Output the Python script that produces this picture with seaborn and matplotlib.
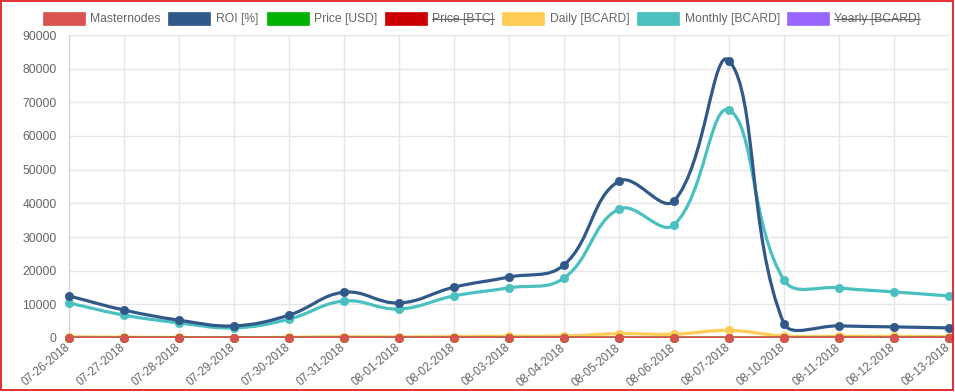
import numpy as np
import pandas as pd
import matplotlib
matplotlib.use("Agg")
import matplotlib.pyplot as plt
import seaborn as sns
from matplotlib.path import Path
from matplotlib.patches import PathPatch, Rectangle
from matplotlib.lines import Line2D

# ---------------- data ----------------
dates = ["07-26-2018", "07-27-2018", "07-28-2018", "07-29-2018", "07-30-2018",
         "07-31-2018", "08-01-2018", "08-02-2018", "08-03-2018", "08-04-2018",
         "08-05-2018", "08-06-2018", "08-07-2018", "08-10-2018", "08-11-2018",
         "08-12-2018", "08-13-2018"]
masternodes = [20, 21, 22, 22, 23, 24, 25, 26, 27, 28, 29, 30, 31, 33, 34, 35, 36]
roi = [12500, 8300, 5300, 3600, 6800, 13600, 10400, 15100, 18100, 21700,
       46600, 40700, 82400, 4200, 3600, 3300, 3000]
price_usd = [0.12, 0.10, 0.08, 0.06, 0.09, 0.15, 0.12, 0.16, 0.18, 0.20,
             0.40, 0.35, 0.70, 0.05, 0.05, 0.05, 0.04]
daily = [350, 230, 150, 100, 190, 370, 290, 420, 500, 590,
         1280, 1120, 2260, 570, 500, 460, 420]
monthly = [10400, 6800, 4500, 3000, 5600, 11000, 8600, 12500, 14900, 17800,
           38300, 33600, 67700, 17200, 14900, 13700, 12500]

legend_labels = ["Masternodes", "ROI [%]", "Price [USD]", "Price [BTC]",
                 "Daily [BCARD]", "Monthly [BCARD]", "Yearly [BCARD]"]
legend_hidden = [False, False, False, True, False, False, True]
legend_colors = ["#d9534f", "#30598a", "#00b300", "#cc0000",
                 "#ffcc55", "#4bc0c0", "#9966ff"]

y_ticks = [0, 10000, 20000, 30000, 40000, 50000, 60000, 70000, 80000, 90000]

# ---------------- figure ----------------
sns.set_style("white")
plt.rcParams["font.family"] = ["Liberation Sans", "DejaVu Sans"]

W, H = 955, 392
fig = plt.figure(figsize=(W / 100, H / 100), dpi=100)
L, R, T, B = 69, 949, 35, 338
ax = fig.add_axes([L / W, 1 - B / H, (R - L) / W, (B - T) / H])

x = np.arange(len(dates))
ax.set_xlim(0, len(dates) - 1)
ax.set_ylim(0, 90000)

GRID = "#e6e6e6"
TXT = "#666666"
ax.set_xticks(x)
ax.set_xticklabels(dates)
ax.set_yticks(y_ticks)
ax.set_yticklabels([str(v) for v in y_ticks])
ax.grid(True, color=GRID, linewidth=1)
ax.set_axisbelow(True)
for s in ax.spines.values():
    s.set_visible(False)
ax.spines["left"].set_visible(True)
ax.spines["left"].set_color("#d0d0d0")
ax.tick_params(axis="y", length=7, width=0.8, color=GRID,
               labelcolor=TXT, labelsize=8.7, pad=2)
ax.tick_params(axis="x", length=4, width=0.8, color=GRID,
               labelcolor=TXT, labelsize=8.3, pad=2)
for lab in ax.get_xticklabels():
    lab.set_rotation(40)
    lab.set_ha("right")
    lab.set_va("center")
    lab.set_rotation_mode("anchor")

df = pd.DataFrame({"x": x, "Masternodes": masternodes, "ROI": roi,
                   "PriceUSD": price_usd, "Daily": daily, "Monthly": monthly})


def chartjs_curve(xs, ys, tension=0.4):
    pts = ax.transData.transform(np.column_stack([xs, ys]).astype(float))
    n = len(pts)
    cp_prev = np.zeros_like(pts)
    cp_next = np.zeros_like(pts)
    for i in range(n):
        prev = pts[max(i - 1, 0)]
        cur = pts[i]
        nxt = pts[min(i + 1, n - 1)]
        d01 = np.hypot(*(cur - prev))
        d12 = np.hypot(*(nxt - cur))
        tot = d01 + d12
        s01 = d01 / tot if tot > 0 else 0
        s12 = d12 / tot if tot > 0 else 0
        cp_prev[i] = cur - tension * s01 * (nxt - prev)
        cp_next[i] = cur + tension * s12 * (nxt - prev)
    bb = ax.bbox
    for arr in (cp_prev, cp_next):
        arr[:, 0] = np.clip(arr[:, 0], bb.x0, bb.x1)
        arr[:, 1] = np.clip(arr[:, 1], bb.y0, bb.y1)
    verts = [pts[0]]
    codes = [Path.MOVETO]
    for i in range(n - 1):
        verts += [cp_next[i], cp_prev[i + 1], pts[i + 1]]
        codes += [Path.CURVE4] * 3
    inv = ax.transData.inverted()
    verts = inv.transform(np.array(verts))
    return Path(verts, codes)


series = [
    ("Monthly", legend_colors[5], 3),
    ("Daily", legend_colors[4], 4),
    ("PriceUSD", legend_colors[2], 5),
    ("ROI", legend_colors[1], 6),
    ("Masternodes", legend_colors[0], 7),
]
for col, color, z in series:
    path = chartjs_curve(df["x"].values, df[col].values)
    ax.add_patch(PathPatch(path, fill=False, edgecolor=color, linewidth=2.3,
                           zorder=z, capstyle="round", joinstyle="round"))
    sns.scatterplot(data=df, x="x", y=col, ax=ax, color=color, s=36,
                    edgecolor=color, linewidth=0.5, zorder=z + 0.5,
                    legend=False, clip_on=False)
ax.set_xlabel("")
ax.set_ylabel("")

# ---------------- legend (manual, Chart.js style) ----------------
box_x = [43, 168, 267, 385, 502, 637, 787]
text_x = [90, 216, 314, 432, 550, 685, 834]
box_top, box_h, box_w = 12, 13, 42
texts = []
for bx, tx, lab, col, hid in zip(box_x, text_x, legend_labels,
                                 legend_colors, legend_hidden):
    fig.patches.append(Rectangle((bx / W, 1 - (box_top + box_h) / H),
                                 box_w / W, box_h / H, transform=fig.transFigure,
                                 facecolor=col, edgecolor=col, linewidth=0.5))
    t = fig.text(tx / W, 1 - (box_top + box_h / 2 + 0.5) / H, lab, color=TXT,
                 fontsize=8.7, ha="left", va="center")
    texts.append((t, hid))

fig.canvas.draw()
renderer = fig.canvas.get_renderer()
for t, hid in texts:
    if hid:
        bb = t.get_window_extent(renderer)
        ym = (bb.y0 + bb.y1) / 2 / H
        fig.add_artist(Line2D([bb.x0 / W, bb.x1 / W], [ym, ym],
                              transform=fig.transFigure, color=TXT,
                              linewidth=0.8))

# red frame around the image
fig.patches.append(Rectangle((0.8 / W, 1.8 / H), (W - 2.6) / W, (H - 2.6) / H,
                             transform=fig.transFigure, fill=False,
                             edgecolor="#e02020", linewidth=1.3))

fig.savefig("out.png", dpi=100)
